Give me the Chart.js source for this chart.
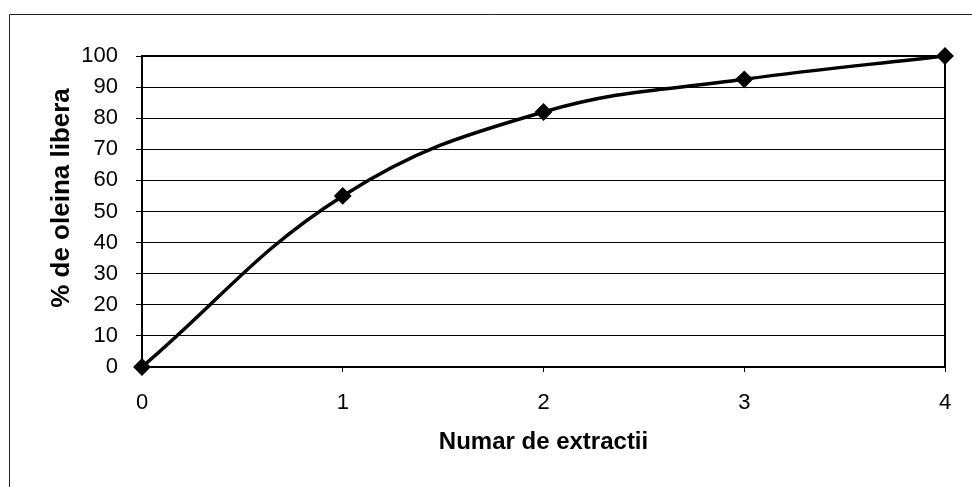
<!DOCTYPE html>
<html>
<head>
<meta charset="utf-8">
<script src="https://cdn.jsdelivr.net/npm/chart.js@4"></script>
<style>
  html, body { margin: 0; padding: 0; background: #fff; }
  #wrap { width: 972px; height: 487px; position: relative; }
</style>
</head>
<body>
<div id="wrap"><canvas id="c" width="972" height="487"></canvas></div>
<script>
// Extraction count vs. percentage of free olein
const extractions = [0, 1, 2, 3, 4];
const freeOlein = [0, 55, 82, 92.5, 100];
const yTicks = [0, 10, 20, 30, 40, 50, 60, 70, 80, 90, 100];
const xTitle = 'Numar de extractii';
const yTitle = '% de oleina libera';

const FONT = '"Liberation Sans", Arial, sans-serif';

const points = extractions.map((x, i) => ({ x: x, y: freeOlein[i] }));

// Outer frame, plot border (top/right) and the rotated y-axis title
const framePlugin = {
  id: 'frame',
  beforeDraw(chart) {
    const ctx = chart.ctx;
    ctx.save();
    ctx.strokeStyle = '#222';
    ctx.lineWidth = 1;
    ctx.beginPath();
    ctx.moveTo(9.5, 487);
    ctx.lineTo(9.5, 14.5);
    ctx.lineTo(972, 14.5);
    ctx.stroke();
    ctx.restore();
  },
  afterDatasetsDraw(chart) {
    const a = chart.chartArea;
    const ctx = chart.ctx;
    ctx.save();
    ctx.strokeStyle = '#000';
    ctx.lineWidth = 2;
    ctx.beginPath();
    ctx.moveTo(a.left, a.top);
    ctx.lineTo(a.right, a.top);
    ctx.lineTo(a.right, a.bottom);
    ctx.stroke();

    ctx.translate(62, 198);
    ctx.rotate(-Math.PI / 2);
    ctx.fillStyle = '#000';
    ctx.font = 'bold 26px ' + FONT;
    ctx.textAlign = 'center';
    ctx.textBaseline = 'middle';
    ctx.fillText(yTitle, 0, 0);
    ctx.restore();
  }
};

new Chart(document.getElementById('c'), {
  type: 'line',
  data: {
    datasets: [{
      data: points,
      borderColor: '#000',
      backgroundColor: '#000',
      borderWidth: 3.5,
      tension: 0.4,
      pointStyle: 'rectRot',
      pointRadius: 7.5,
      pointBorderWidth: 2,
      pointBorderColor: '#000',
      pointBackgroundColor: '#000',
      clip: false
    }]
  },
  options: {
    responsive: false,
    animation: false,
    events: [],
    layout: { padding: { top: 56, right: 27, left: 0, bottom: 0 } },
    plugins: { legend: { display: false }, tooltip: { enabled: false } },
    scales: {
      x: {
        type: 'linear',
        min: 0,
        max: 4,
        afterBuildTicks(scale) { scale.ticks = extractions.map(v => ({ value: v })); },
        afterFit(scale) { scale.height = 120; },
        ticks: { color: '#000', font: { family: FONT, size: 22 }, padding: 18, maxRotation: 0 },
        grid: { drawOnChartArea: false, color: '#000', lineWidth: 1, tickLength: 5 },
        border: { color: '#000', width: 2 },
        title: { display: true, text: xTitle, color: '#000',
                 font: { family: FONT, size: 24, weight: 'bold' }, padding: { top: 0, bottom: 30 } }
      },
      y: {
        min: 0,
        max: 100,
        afterBuildTicks(scale) { scale.ticks = yTicks.map(v => ({ value: v })); },
        afterFit(scale) { scale.width = 142; },
        ticks: { color: '#000', font: { family: FONT, size: 22 }, padding: 18 },
        grid: { color: '#000', lineWidth: 1, tickLength: 6 },
        border: { color: '#000', width: 2 }
      }
    }
  },
  plugins: [framePlugin]
});
</script>
</body>
</html>
